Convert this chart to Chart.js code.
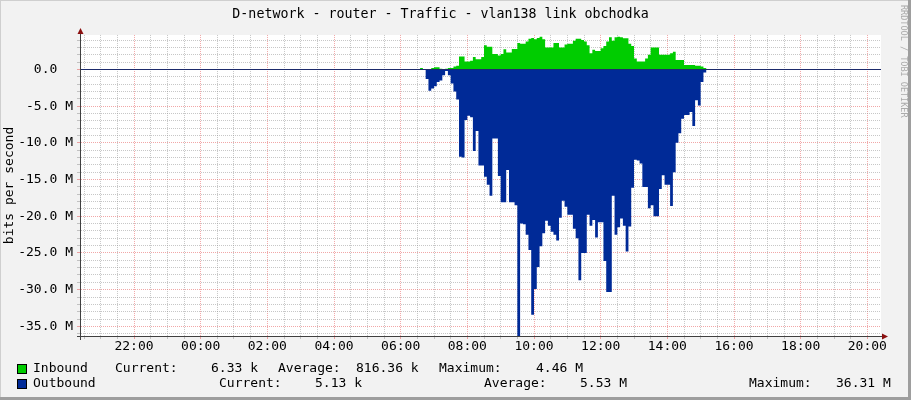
<!DOCTYPE html>
<html>
<head>
<meta charset="utf-8">
<script src="https://cdn.jsdelivr.net/npm/chart.js@4.4.1/dist/chart.umd.min.js"></script>
<style>
  html, body { margin: 0; padding: 0; background: #f2f2f2; }
  canvas { display: block; }
</style>
</head>
<body>
<canvas id="chart" width="911" height="400"></canvas>
<script>
// 5 minute samples, first one at 06:30, values in Mbit/s
const sampleStart = '06:30';
const sampleStepMin = 5;

const inbound = [
  0, 0, 0.2, 0, 0, 0, 0.2, 0.3, 0.3, 0.1,
  0, 0.1, 0.2, 0.2, 0.4, 0.5, 1.75, 1.75, 1.1, 1.1,
  1.2, 1.7, 1.4, 1.4, 1.7, 3.3, 3.1, 3.1, 2.1, 2.1,
  1.9, 2.1, 2.75, 2.3, 2.3, 2.8, 2.8, 3.6, 3.5, 3.5,
  3.8, 4.2, 4.3, 4.1, 4.3, 4.46, 4.1, 3.0, 3.0, 3.0,
  3.6, 3.6, 3.0, 3.0, 3.4, 3.5, 3.5, 3.9, 4.2, 4.2,
  4.0, 3.8, 3.3, 2.2, 2.7, 2.5, 2.5, 2.9, 3.2, 3.8,
  4.4, 3.9, 4.4, 4.46, 4.4, 4.25, 4.25, 3.5, 3.2, 1.5,
  1.1, 1.1, 1.1, 1.5, 2.0, 3.0, 3.0, 3.0, 2.0, 2.0,
  2.0, 2.0, 2.2, 2.4, 1.3, 1.3, 1.3, 0.6, 0.6, 0.6,
  0.6, 0.5, 0.5, 0.4, 0.2, 0.05, 0
];

// outbound is plotted below the axis
const outbound = [
  0, 0, 0, 0, 1.3, 2.9, 2.6, 2.3, 1.7, 1.5,
  0.8, 0.2, 0.8, 1.9, 3.0, 4.1, 11.9, 12.0, 6.9, 6.3,
  6.5, 11.1, 8.4, 13.1, 13.1, 14.6, 15.7, 17.2, 9.4, 9.4,
  14.5, 18.1, 18.1, 13.7, 18.1, 18.1, 18.5, 36.31, 21.0, 21.1,
  22.5, 24.6, 33.4, 29.9, 26.9, 24.1, 22.3, 20.6, 21.3, 22.1,
  22.5, 23.3, 20.2, 17.9, 18.7, 19.8, 19.8, 21.7, 23.0, 28.7,
  25.0, 25.0, 19.8, 21.3, 20.5, 22.9, 20.8, 20.8, 26.1, 30.3,
  30.3, 17.2, 22.5, 21.5, 20.3, 21.3, 24.8, 21.4, 16.1, 12.3,
  12.4, 12.8, 16.0, 16.0, 18.9, 18.5, 20.0, 20.0, 16.3, 14.4,
  15.7, 15.7, 18.6, 14.0, 10.0, 8.7, 6.7, 6.2, 6.2, 5.8,
  7.7, 4.2, 4.9, 1.7, 0.4, 0.05, 0
];

const hourLabels = ['22:00', '00:00', '02:00', '04:00', '06:00', '08:00',
  '10:00', '12:00', '14:00', '16:00', '18:00', '20:00'];
const yLabelValues = [0, -5, -10, -15, -20, -25, -30, -35];

const seriesNames = ['Inbound', 'Outbound'];
const seriesColors = ['#00cc00', '#002a97'];
const currentStats = ['6.33 k', '5.13 k'];
const averageStats = ['816.36 k', '5.53 M'];
const maximumStats = ['4.46 M', '36.31 M'];

// time window shown: 24h ending 20:24
const windowStartMin = -215.4;
const windowEndMin = windowStartMin + 1440;

const GRID = 'rgba(143,143,143,0.5)';
const MGRID = 'rgba(225,60,60,0.45)';

function toMin(hhmm) {
  const [h, m] = hhmm.split(':').map(Number);
  let v = h * 60 + m;
  if (v > windowEndMin) v -= 1440;
  return v;
}

const t0 = toMin(sampleStart);
const hourTickMap = new Map(hourLabels.map(l => [toMin(l), l]));

const rrdFrame = {
  id: 'rrdFrame',
  beforeDraw(chart) {
    const { ctx, chartArea: a } = chart;
    ctx.save();
    ctx.fillStyle = '#f2f2f2';
    ctx.fillRect(0, 0, chart.width, chart.height);
    ctx.fillStyle = '#ffffff';
    ctx.fillRect(a.left, a.top, a.right - a.left, a.bottom - a.top);
    ctx.restore();
  },
  afterDraw(chart) {
    const { ctx, chartArea: a } = chart;
    const y0 = Math.round(chart.scales.y.getPixelForValue(0)) + 0.5;
    ctx.save();
    // zero line
    ctx.strokeStyle = '#1c2a6b';
    ctx.lineWidth = 1;
    ctx.beginPath();
    ctx.moveTo(a.left, y0);
    ctx.lineTo(a.right, y0);
    ctx.stroke();

    // axes
    ctx.strokeStyle = '#404040';
    ctx.beginPath();
    ctx.moveTo(a.left - 0.5, a.top - 3);
    ctx.lineTo(a.left - 0.5, a.bottom + 4);
    ctx.moveTo(a.left - 4, a.bottom + 0.5);
    ctx.lineTo(a.right + 3, a.bottom + 0.5);
    ctx.stroke();

    // arrows
    ctx.fillStyle = '#8b1010';
    ctx.beginPath();
    ctx.moveTo(a.left - 0.5, a.top - 7);
    ctx.lineTo(a.left - 3.5, a.top - 1);
    ctx.lineTo(a.left + 2.5, a.top - 1);
    ctx.closePath();
    ctx.fill();
    ctx.beginPath();
    ctx.moveTo(a.right + 7, a.bottom + 0.5);
    ctx.lineTo(a.right + 1, a.bottom - 2.5);
    ctx.lineTo(a.right + 1, a.bottom + 3.5);
    ctx.closePath();
    ctx.fill();

    // legend
    ctx.font = "13px 'DejaVu Sans Mono'";
    ctx.textBaseline = 'middle';
    ctx.textAlign = 'left';
    const rows = [
      { y: 369, xs: [33, 115, 211, 278, 356, 439, 536] },
      { y: 384, xs: [33, 219, 315, 484, 580, 749, 836] }
    ];
    rows.forEach((r, i) => {
      ctx.fillStyle = seriesColors[i];
      ctx.fillRect(17, r.y - 5, 10, 10);
      ctx.strokeStyle = '#000';
      ctx.strokeRect(17.5, r.y - 4.5, 9, 9);
      ctx.fillStyle = '#000';
      const parts = [seriesNames[i], 'Current:', currentStats[i], 'Average:',
        averageStats[i], 'Maximum:', maximumStats[i]];
      parts.forEach((p, j) => ctx.fillText(p, r.xs[j], r.y));
    });

    // watermark
    ctx.save();
    ctx.translate(903, 5);
    ctx.rotate(Math.PI / 2);
    ctx.font = "8.5px 'DejaVu Sans Mono'";
    ctx.fillStyle = '#aaaaaa';
    ctx.textBaseline = 'middle';
    ctx.fillText('RRDTOOL / TOBI OETIKER', 0, 0);
    ctx.restore();

    // 3d frame
    ctx.fillStyle = '#cfcfcf';
    ctx.fillRect(0, 0, chart.width, 1);
    ctx.fillRect(0, 0, 1, chart.height);
    ctx.fillStyle = '#9e9e9e';
    ctx.fillRect(chart.width - 3, 0, 3, chart.height);
    ctx.fillRect(0, chart.height - 3, chart.width, 3);
    ctx.restore();
  }
};

Chart.defaults.font.family = "'DejaVu Sans Mono', monospace";
Chart.defaults.font.size = 13;
Chart.defaults.color = '#000';

new Chart(document.getElementById('chart'), {
  type: 'line',
  data: {
    datasets: [
      {
        label: seriesNames[0],
        data: inbound.map((v, i) => ({ x: t0 + i * sampleStepMin, y: v })),
        stepped: 'after',
        fill: 'origin',
        backgroundColor: seriesColors[0],
        borderColor: 'rgba(0,0,0,0)',
        borderWidth: 0,
        pointRadius: 0
      },
      {
        label: seriesNames[1],
        data: outbound.map((v, i) => ({ x: t0 + i * sampleStepMin, y: -v })),
        stepped: 'after',
        fill: 'origin',
        backgroundColor: seriesColors[1],
        borderColor: 'rgba(0,0,0,0)',
        borderWidth: 0,
        pointRadius: 0
      }
    ]
  },
  options: {
    responsive: false,
    animation: false,
    events: [],
    layout: { padding: { left: 0, right: 30, top: 0, bottom: 0 } },
    plugins: {
      legend: { display: false },
      tooltip: { enabled: false },
      title: {
        display: true,
        text: 'D-network - router - Traffic - vlan138 link obchodka',
        font: { size: 13.3, weight: 'normal' },
        color: '#000',
        padding: { top: 7, bottom: 12 }
      }
    },
    scales: {
      x: {
        type: 'linear',
        min: windowStartMin,
        max: windowEndMin,
        z: 1,
        afterFit: (s) => { s.height = 64; },
        afterBuildTicks: (s) => {
          const t = [];
          for (let m = -210; m <= windowEndMin; m += 30) t.push({ value: m });
          s.ticks = t;
        },
        ticks: {
          autoSkip: false,
          maxRotation: 0,
          padding: 0,
          callback: (v) => hourTickMap.get(v) || ''
        },
        grid: {
          color: (c) => (c.tick && c.tick.value % 120 === 0 ? MGRID : GRID),
          tickLength: 3,
          lineWidth: 1
        },
        border: { display: false, dash: [1, 1] }
      },
      y: {
        min: -36.31,
        max: 4.70,
        z: 1,
        afterFit: (s) => { s.width = 81; },
        afterBuildTicks: (s) => {
          const t = [];
          for (let v = -36; v <= 4; v += 1) t.push({ value: v });
          s.ticks = t;
        },
        ticks: {
          autoSkip: false,
          padding: 4,
          callback: (v) => {
            if (!yLabelValues.includes(v)) return '';
            return v === 0 ? '0.0  ' : v.toFixed(1) + ' M';
          }
        },
        grid: {
          color: (c) => (c.tick && c.tick.value % 5 === 0 ? MGRID : GRID),
          tickLength: 4,
          lineWidth: 1
        },
        border: { display: false, dash: [1, 1] },
        title: {
          display: true,
          text: 'bits per second',
          font: { size: 13 },
          padding: { top: 2, bottom: 0 }
        }
      }
    }
  },
  plugins: [rrdFrame]
});
</script>
</body>
</html>
